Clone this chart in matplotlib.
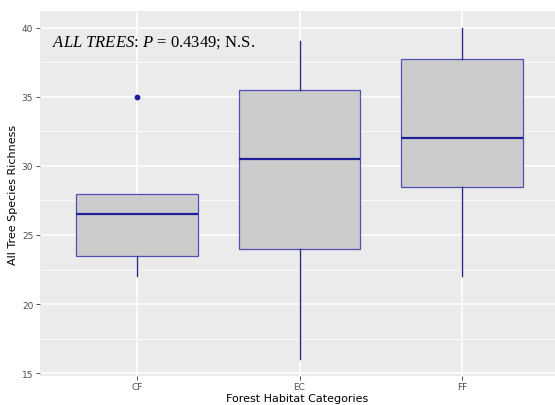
import matplotlib
matplotlib.use("Agg")
import matplotlib.pyplot as plt
from matplotlib.ticker import MultipleLocator

plt.rcParams["mathtext.fontset"] = "custom"
plt.rcParams["mathtext.rm"] = "Liberation Serif"
plt.rcParams["mathtext.it"] = "Liberation Serif:italic"

# values
categories = ["CF", "EC", "FF"]
whisker_low = [22.0, 16.0, 22.0]
q1 = [23.5, 24.0, 28.5]
median = [26.5, 30.5, 32.0]
q3 = [28.0, 35.5, 37.75]
whisker_high = [28.0, 39.0, 40.0]
outliers = [[35.0], [], []]

stats = []
for i, name in enumerate(categories):
    stats.append({"label": name, "whislo": whisker_low[i], "q1": q1[i],
                  "med": median[i], "q3": q3[i], "whishi": whisker_high[i],
                  "fliers": outliers[i]})

line_col = "#1f1f99"

fig = plt.figure(figsize=(5.55, 4.06), dpi=100)
ax = fig.add_axes([39.5 / 555, 29 / 406, (555 - 39.5) / 555, 365 / 406])
ax.set_facecolor("#EBEBEB")

ax.bxp(stats, positions=[1, 2, 3], widths=0.75, patch_artist=True,
       showcaps=False,
       boxprops=dict(facecolor="#CCCCCC", edgecolor="#5050b8", linewidth=0.9),
       medianprops=dict(color=line_col, linewidth=1.6),
       whiskerprops=dict(color="#2a2a80", linewidth=1.0),
       flierprops=dict(marker="o", markersize=3.2, markerfacecolor=line_col,
                       markeredgecolor=line_col))

ax.set_xlim(0.4, 3 + (555 - 462) / 162.5)
ax.set_ylim(14.8, 41.2)
ax.yaxis.set_major_locator(MultipleLocator(5))
ax.yaxis.set_minor_locator(MultipleLocator(2.5))
ax.grid(which="major", color="white", linewidth=1.1)
ax.grid(which="minor", axis="y", color="white", linewidth=0.55)
ax.set_axisbelow(True)
for s in ax.spines.values():
    s.set_visible(False)

ax.tick_params(axis="both", which="major", length=3, width=0.6, color="#333333",
               labelsize=6.5, labelcolor="#4D4D4D", pad=1.5)
ax.tick_params(which="minor", length=0)

ax.set_xlabel("Forest Habitat Categories", fontsize=8, color="black", labelpad=1)
ax.set_ylabel("All Tree Species Richness", fontsize=8, color="black", labelpad=3)

ax.text(0.48, 39.0, r"$\mathit{ALL\ TREES}$: $P$ = 0.4349; N.S.",
        fontfamily="Liberation Serif", fontsize=12, va="center", ha="left")

fig.savefig("out.png", dpi=100)
